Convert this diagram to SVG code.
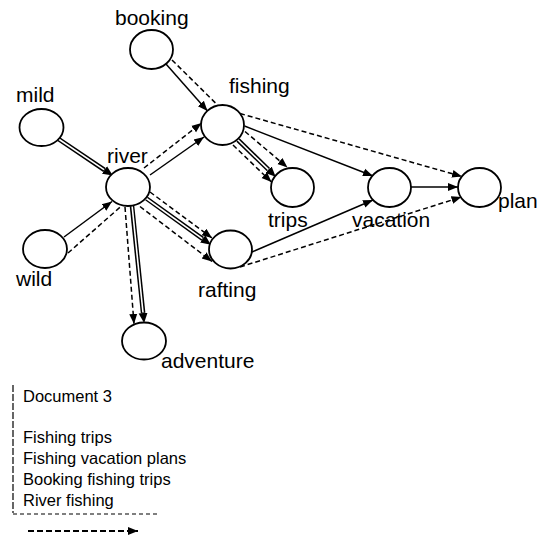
<svg xmlns="http://www.w3.org/2000/svg" width="541" height="535" viewBox="0 0 541 535">
<style>
.node ellipse{fill:#fff;stroke:#000;stroke-width:1.8}
.lbl{font-family:"Liberation Sans",Arial,sans-serif;font-size:21px;fill:#000}
.leg{font-family:"Liberation Sans",Arial,sans-serif;font-size:16.5px;fill:#000}
.s{fill:none;stroke:#000;stroke-width:1.5}
.d{fill:none;stroke:#000;stroke-width:1.5;stroke-dasharray:5 3}
.db{fill:none;stroke:#000;stroke-width:4.6}
.dw{fill:none;stroke:#fff;stroke-width:1.6}
</style>
<defs>
<marker id="arr" markerUnits="userSpaceOnUse" markerWidth="10" markerHeight="10" viewBox="0 0 10 10" refX="10" refY="5" orient="auto">
<path d="M0,1 L10,5 L0,9 z" fill="#000" stroke="none"/>
</marker>
<marker id="arrD" markerUnits="userSpaceOnUse" markerWidth="10" markerHeight="10" viewBox="0 0 10 10" refX="0" refY="5" orient="auto">
<path d="M0,0.5 L10,5 L0,9.5 z" fill="#000" stroke="none"/>
</marker>
</defs>
<rect width="541" height="535" fill="#fff"/>
<g id="connectors">
<!-- booking -> fishing -->
<path class="s" d="M166,64 L207.5,111" marker-end="url(#arr)"/>
<path class="d" d="M172,60 L218,105.5"/>
<!-- mild -> river (double) -->
<path class="db" d="M58.7,139.1 L104.5,170" marker-end="url(#arrD)"/>
<path class="dw" d="M57,138 L104,169.7"/>
<!-- river -> fishing -->
<path class="d" d="M144,168 L201.5,123" marker-end="url(#arr)"/>
<path class="s" d="M150,175 L204,137" marker-end="url(#arr)"/>
<!-- wild -> river -->
<path class="s" d="M64,237 L112,201.5" marker-end="url(#arr)"/>
<path class="d" d="M68,253 L122,205.5"/>
<!-- river -> rafting -->
<path class="d" d="M150,192 L212,238" marker-end="url(#arr)"/>
<path class="db" d="M146.5,198.5 L202.7,238.8" marker-end="url(#arrD)"/>
<path class="dw" d="M145,197.5 L202.3,238.6"/>
<path class="d" d="M140,206.5 L212,261.5" marker-end="url(#arr)"/>
<!-- river -> adventure -->
<path class="d" d="M125,207 L134,324" marker-end="url(#arr)"/>
<path class="db" d="M132,206 L143.1,313" marker-end="url(#arrD)"/>
<path class="dw" d="M131.9,204 L143,312.5"/>
<!-- fishing -> trips -->
<path class="d" d="M245,131.5 L287.5,167.5" marker-end="url(#arr)"/>
<path class="db" d="M238,140 L268.5,169.7" marker-end="url(#arrD)"/>
<path class="dw" d="M236.5,138.5 L268.2,169.4"/>
<path class="d" d="M233,145 L271.5,182" marker-end="url(#arr)"/>
<!-- fishing -> vacation -->
<path class="s" d="M244.5,126 L373,176" marker-end="url(#arr)"/>
<!-- fishing -> plan -->
<path class="d" d="M240,113.5 L462,176.5" marker-end="url(#arr)"/>
<!-- vacation -> plan -->
<path class="s" d="M411,187 L458,187" marker-end="url(#arr)"/>
<!-- rafting -> vacation -->
<path class="s" d="M252,252 L373,200" marker-end="url(#arr)"/>
<!-- rafting -> plan -->
<path class="d" d="M240,267 L461.5,197" marker-end="url(#arr)"/>
</g>
<g id="booking" class="node"><ellipse cx="151.5" cy="49.5" rx="21.5" ry="19.5"/><text class="lbl" x="115" y="25">booking</text></g>
<g id="mild" class="node"><ellipse cx="41.5" cy="127.5" rx="22" ry="18.5"/><text class="lbl" x="16" y="102">mild</text></g>
<g id="fishing" class="node"><ellipse cx="222.5" cy="125" rx="21.5" ry="20"/><text class="lbl" x="229" y="93">fishing</text></g>
<g id="river" class="node"><ellipse cx="128" cy="187" rx="22" ry="19"/><text class="lbl" x="107" y="163">river</text></g>
<g id="wild" class="node"><ellipse cx="45" cy="249" rx="22" ry="19"/><text class="lbl" x="16" y="286">wild</text></g>
<g id="rafting" class="node"><ellipse cx="230.5" cy="249.5" rx="21.5" ry="19"/><text class="lbl" x="198" y="297">rafting</text></g>
<g id="adventure" class="node"><ellipse cx="144" cy="341" rx="22" ry="18.5"/><text class="lbl" x="161" y="368">adventure</text></g>
<g id="trips" class="node"><ellipse cx="292.5" cy="187.5" rx="21.5" ry="19.5"/><text class="lbl" x="268" y="227">trips</text></g>
<g id="vacation" class="node"><ellipse cx="389.5" cy="187.5" rx="21.5" ry="19.5"/><text class="lbl" x="352" y="227">vacation</text></g>
<g id="plan" class="node"><ellipse cx="479.5" cy="187.5" rx="21.5" ry="19.5"/><text class="lbl" x="498" y="208">plan</text></g>
<g id="legend">
<path d="M13,385 L13,513" fill="none" stroke="#000" stroke-width="1.2" stroke-dasharray="7 2"/>
<path d="M13,514 L159,514" fill="none" stroke="#000" stroke-width="1.2" stroke-dasharray="4 3"/>
<path d="M28,531 L138,531" fill="none" stroke="#000" stroke-width="1.8" stroke-dasharray="6 3" marker-end="url(#arr)"/>
<text class="leg" x="23" y="402">Document 3</text>
<text class="leg" x="23" y="443">Fishing trips</text>
<text class="leg" x="23" y="464">Fishing vacation plans</text>
<text class="leg" x="23" y="485">Booking fishing trips</text>
<text class="leg" x="23" y="506">River fishing</text>
</g>
</svg>
